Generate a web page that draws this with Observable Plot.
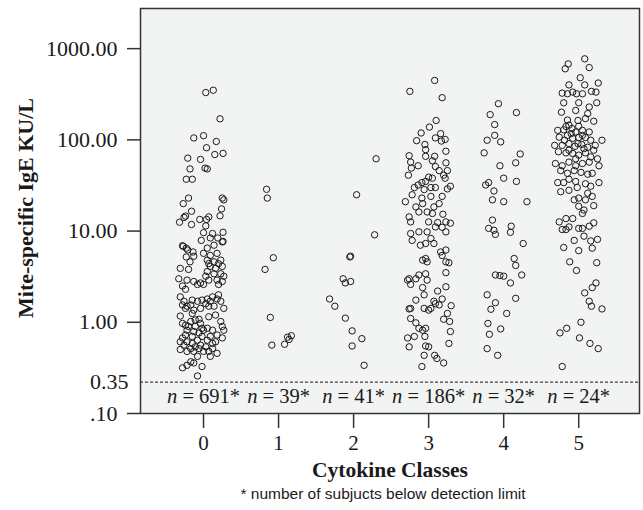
<!DOCTYPE html>
<html><head><meta charset="utf-8">
<script src="https://cdn.jsdelivr.net/npm/d3@7"></script>
<script src="https://cdn.jsdelivr.net/npm/@observablehq/plot@0.6"></script>
<style>body{margin:0;background:#fff}</style>
</head><body><div id="chart"></div>
<script>
// Categories and labels
const classes = [0, 1, 2, 3, 4, 5];
const nBelow = [691, 39, 41, 186, 32, 24];
const yTickValues = [0.1, 1, 10, 100, 1000];
const yTickLabels = [".10", "1.00", "10.00", "100.00", "1000.00"];
const detectionLimit = 0.35;
const xTitle = "Cytokine Classes";
const yTitle = "Mite-specific IgE KU/L";
const note = "* number of subjucts below detection limit";

// Points per class: [jitter offset from class, IgE value KU/L]
const class0 = [
[0.03,330],[0.13,350],[0.22,170],[-0.13,105],[0.0,111],[0.17,96],[0.04,82],[-0.21,63],[-0.04,61],[0.15,69],[0.26,71],
[-0.18,48],[0.02,49],[0.05,48],[-0.23,37],[-0.15,37],[-0.2,23],[-0.27,20],[0.25,23],[0.27,22],[0.24,17.5],[-0.16,16.5],
[-0.24,14.6],[-0.26,14.1],[-0.32,12.5],[-0.16,11.8],[-0.05,13.4],[0.07,14.3],[0.04,13.4],[0.22,14.7],[0.03,11.4],[0.0,9.6],
[0.12,9.4],[0.26,9.7],[-0.03,7.9],[0.09,8.4],[0.19,8.4],[0.26,7.7],[-0.28,6.9],[-0.23,6.5],
[-0.27,6.8],[-0.21,6.2],[-0.14,5.9],[-0.13,5.3],[-0.23,5.2],[-0.18,4.6],[0.05,6.5],[0.14,7.0],[0.25,7.6],[0.09,5.4],[0.18,5.7],
[0.05,4.8],[0.14,4.6],[0.23,4.8],[0.25,4.1],[0.09,4.1],[0.14,3.4],[0.05,3.6],[0.23,3.4],[0.18,2.9],[0.07,2.9],[0.0,2.6],
[0.25,2.8],[0.27,3.2],[-0.31,3.9],[-0.2,3.8],[-0.33,3.0],[-0.22,2.9],[-0.28,2.5],[-0.24,2.3],[-0.13,2.8],[-0.08,2.6],[-0.04,2.7],
[-0.31,1.9],[-0.26,1.7],[-0.22,1.5],[-0.15,1.75],[-0.08,1.7],[-0.02,1.75],[0.05,1.8],[0.12,1.9],[0.2,2.0],[0.23,1.7],[0.14,1.5],
[0.03,1.6],[-0.04,1.42],[-0.13,1.36],[-0.24,1.42],[0.27,1.42],[0.09,1.7],[-0.31,1.17],[-0.15,1.25],[0.07,1.15],[0.16,1.2],
[-0.06,1.08],[0.23,1.02],[0.25,0.93],[-0.24,0.95],[-0.17,1.02],[-0.11,0.93],[-0.04,0.98],[-0.22,0.87],[-0.13,0.85],[0.0,0.87],
[0.05,0.9],[0.12,0.87],[0.18,0.8],[0.27,0.87],[0.25,0.76],[-0.28,0.76],[-0.22,0.71],[-0.15,0.69],[-0.08,0.73],[-0.02,0.78],
[0.05,0.73],[0.12,0.69],[-0.26,0.67],[-0.17,0.63],[-0.11,0.65],[-0.04,0.67],[0.03,0.65],[0.12,0.63],[-0.31,0.62],[-0.22,0.6],
[-0.13,0.6],[0.0,0.6],[0.18,0.58],[-0.08,0.55],[-0.17,0.5],[-0.22,0.47],[-0.28,0.45],[-0.02,0.46],[0.09,0.55],[-0.13,0.49],
[-0.08,0.39],[-0.28,0.98],[-0.2,0.93],[-0.15,0.78],[-0.06,0.83],[-0.24,0.8],[-0.11,1.06],[-0.02,0.9],[0.09,0.78],[0.16,0.71],
[-0.31,0.71],[-0.06,0.63],[0.07,0.6],[0.0,5.7],[0.16,3.9],[0.2,4.4],[0.07,4.4],[0.03,3.2],[0.2,2.6],[-0.17,1.55],[0.07,1.5],
[0.18,1.8],[-0.28,1.55]
];
const class1 = [
[-0.16,28.7],[-0.15,23],[-0.07,5.1],[-0.18,3.8],[-0.11,1.13],[-0.09,0.67],[0.08,0.68],[0.14,0.74],[0.17,0.79],[0.12,0.77]
];
const class2 = [
[0.3,62],[0.04,25],[0.28,9.1],[-0.05,5.2],[-0.04,5.3],[-0.14,3.0],[-0.11,2.7],[-0.04,2.8],[-0.32,1.8],[-0.25,1.5],
[-0.11,1.11],[-0.02,0.86],[0.11,0.75],[-0.02,0.66],[0.14,0.47]
];
const class3 = [
[0.08,448],[-0.25,340],[0.18,290],[0.1,163],[0.01,138],[-0.1,119],[-0.16,98],[-0.05,89],[0.09,105],[0.16,117],[0.17,97],
[0.22,101],[-0.04,78],[0.23,75],[-0.26,67],[-0.24,57],[-0.04,66],[0.08,66],[0.05,59],[0.23,56],[-0.23,49],[-0.14,52],
[0.09,51],[0.14,46],[0.25,46],[-0.27,41],[0.2,41],[0.22,38],[0.0,39],[0.05,38],[-0.04,35],[-0.09,34],[-0.19,30],[-0.14,32],
[-0.06,28.5],[0.03,30],[0.09,30],[0.25,29],[0.29,31],[-0.22,25],[-0.31,21],[-0.09,23],[0.03,24],[0.14,20],[0.18,24],
[-0.17,18.4],[-0.08,20],[0.07,18.4],[-0.13,16.2],[-0.02,16.2],[0.05,15.6],[0.19,15.3],[-0.26,14.3],[-0.24,12.6],[0.0,12.6],
[0.12,12.4],[0.23,12.6],[0.29,12.2],
[-0.24,9.4],[-0.13,9.8],[-0.02,9.8],[0.09,11.1],[0.18,11.0],[0.23,9.8],[-0.22,7.9],[-0.11,7.0],[-0.04,7.3],[0.03,8.3],
[0.07,7.3],[-0.08,4.8],[-0.04,5.0],[-0.02,4.6],[0.16,5.9],[0.23,6.2],[0.18,5.4],[0.23,4.6],[0.27,4.5],[0.23,3.5],[-0.26,3.0],
[-0.28,2.9],[-0.24,2.6],[-0.17,3.0],[-0.13,3.3],[-0.04,3.4],[-0.02,2.9],[-0.08,2.4],[-0.06,2.0],[0.23,2.45],[0.12,2.2],
[0.18,1.8],[0.07,1.7],[0.09,1.6],[0.14,1.55],[-0.17,1.75],[-0.24,1.42],[-0.26,1.4],[-0.06,1.42],[0.0,1.36],[0.03,1.42],
[0.3,1.52],[0.25,1.25],[0.2,1.08],[0.28,1.02],[-0.24,1.1],[-0.17,0.99],[-0.13,0.9],[-0.08,0.87],[-0.04,0.9],[0.29,0.85],
[-0.28,0.76],[-0.26,0.65],[-0.19,0.78],[-0.05,0.78],[0.27,0.69],[-0.04,0.66],[0.0,0.65],[-0.06,0.56],[0.08,0.56],[0.11,0.53],
[0.2,0.49],[-0.09,0.46]
];
const class4 = [
[-0.07,249],[0.17,199],[-0.18,189],[-0.12,147],[-0.22,99],[-0.12,112],[-0.04,95],[-0.26,72],[0.22,70],[0.16,56],[-0.05,52],
[0.0,38],[0.17,35],[-0.24,32],[-0.2,34],[-0.13,27.5],[-0.15,22],[0.0,21],[0.31,21],[-0.15,13.2],[-0.2,10.7],[-0.13,10.2],
[-0.11,9.2],[0.1,11.3],[0.09,9.7],[0.26,7.3],[0.14,5.0],[0.16,4.2],[-0.11,3.3],[-0.05,3.25],[0.0,3.2],[0.09,2.7],[0.24,3.3],
[-0.22,2.0],[-0.11,1.64],[-0.17,1.39],[0.16,1.83],[0.04,1.25],[-0.21,0.98],[-0.04,0.89],[-0.19,0.81],[-0.22,0.63],[-0.08,0.56]
];
const class5 = [
[0.08,773],[-0.14,680],[-0.18,601],[0.14,620],[0.02,480],[-0.13,400],[0.08,400],[0.26,420],[-0.22,325],[-0.15,320],[-0.08,334],
[-0.03,320],[0.05,320],[0.17,340],[0.23,334],[-0.2,255],[0.0,255],[0.24,255],[-0.23,201],[-0.04,210],[0.14,229],[0.12,194],
[-0.15,165],[-0.01,163],[0.09,171],[0.2,160],[-0.13,145],[-0.28,127],[-0.2,129],[-0.09,133],[-0.04,122],[0.05,127],[0.14,122],
[-0.26,107],[-0.15,112],[-0.08,104],[0.0,106],[0.09,106],[0.16,99],[0.31,99],[-0.32,87],[-0.22,87],[-0.13,91],[-0.05,85],
[0.04,89],[0.12,83],[0.22,87],[-0.27,74],[-0.17,72],[-0.08,71],[0.0,68],[0.09,72],[0.16,65],[0.25,62],[-0.31,55],[-0.22,52],
[-0.13,57],[-0.04,52],[0.05,55],[0.14,57],[0.27,52],[-0.24,46],[-0.15,43],[-0.06,46],[0.03,44],[0.12,42],[0.18,43],[-0.28,34],
[-0.2,34],[-0.13,37],[-0.04,35],[0.09,33],[0.16,31],[0.27,34],[-0.24,27],[-0.13,28],[-0.02,30],[0.12,26],[0.18,24],[-0.06,22],
[0.0,23],[0.09,22],[-0.17,140],[0.0,141],[-0.1,117],[0.05,112],[-0.19,99],[-0.01,91],[0.07,80],[-0.13,77],[-0.04,62],[0.2,77],
[0.0,18.7],[0.07,17],[0.05,15.6],[0.2,19],[-0.26,12.6],[-0.17,13.7],[-0.08,13.7],[-0.22,10.4],[-0.17,10.4],[-0.13,11.1],
[0.0,10.7],[0.05,10.7],[0.14,11.3],[0.2,12.3],[0.07,8.8],[0.16,7.8],[0.25,8.1],[-0.06,7.9],[0.18,6.5],[-0.2,6.6],[0.0,6.1],
[-0.12,4.6],[0.24,4.5],[-0.03,3.7],[0.23,2.7],[0.18,2.4],[0.08,2.1],[0.14,1.7],[0.17,1.5],[0.31,1.4],[0.03,1.0],[-0.16,0.9],
[-0.25,0.83],[0.01,0.76],[0.15,0.69],[0.26,0.63],[-0.22,0.46]
];

const byClass = [class0, class1, class2, class3, class4, class5];
const points = byClass.flatMap((arr, i) => arr.map(([dx, v]) => ({cls: i, x: i + dx, v})));

// SPSS-style broken log axis: log above 1, stretched band from 1 to 0.35, compressed band below the detection limit
const L035 = Math.log10(0.35), P035 = -0.656;
function pos(v) {
  const l = Math.log10(v);
  if (v >= 1) return l;
  if (v >= 0.35) return l * (P035 / L035);
  return P035 + (l - L035) / (-1 - L035) * (-1 - P035);
}
const labelByPos = new Map(yTickValues.map((v, i) => [pos(v), yTickLabels[i]]));

const serif = "'Liberation Serif','Times New Roman',serif";
const chart = Plot.plot({
  width: 643, height: 510,
  marginTop: 8, marginRight: 4, marginBottom: 97, marginLeft: 140,
  style: {fontFamily: serif, background: "#fff", color: "#1a1a1a"},
  x: {type: "linear", domain: [-0.84, 5.81]},
  y: {type: "linear", domain: [-1, 3.44]},
  marks: [
    Plot.frame({fill: "#f2f3f3", stroke: null}),
    Plot.ruleY([pos(detectionLimit)], {stroke: "#111", strokeWidth: 1, strokeDasharray: "3,2"}),
    Plot.dot(points, {x: "x", y: d => pos(d.v), r: 3.2, stroke: "#1a1a1a", strokeWidth: 1, fill: "none"}),
    Plot.text(classes, {x: d => d, frameAnchor: "bottom", dy: -11, text: (d, i) => `n = ${nBelow[i]}*`, fontSize: 20.5, fill: "#1a1a1a"}),
    Plot.axisY(yTickValues.map(pos), {tickSize: 13, tickPadding: 10, tickFormat: t => labelByPos.get(t), fontSize: 22, strokeWidth: 1.5, stroke: "#333", label: null}),
    Plot.axisY([pos(detectionLimit)], {tickSize: 0, tickPadding: 12, tickFormat: () => "0.35", fontSize: 22, label: null}),
    Plot.axisX(classes, {tickSize: 15, tickPadding: 7, tickFormat: d => String(d), fontSize: 21, strokeWidth: 1.5, stroke: "#333", label: null}),
    Plot.frame({stroke: "#333", strokeWidth: 1.5}),
    Plot.text([yTitle], {frameAnchor: "left", textAnchor: "middle", dx: -115, dy: -3, rotate: -90, fontSize: 22, fontWeight: "bold", fill: "#1a1a1a"}),
    Plot.text([xTitle], {frameAnchor: "bottom", dy: 63, fontSize: 21.5, fontWeight: "bold", fill: "#1a1a1a"}),
    Plot.text([note], {frameAnchor: "bottom", dy: 85, dx: -7, fontSize: 15.5, fontFamily: "'Liberation Sans',Arial,sans-serif", fill: "#1a1a1a"})
  ]
});
document.getElementById("chart").appendChild(chart);

// italic "n" in the count labels
d3.select(chart).selectAll("text").each(function () {
  const t = this.textContent;
  if (/^n = /.test(t)) {
    const s = d3.select(this);
    this.textContent = "";
    s.append("tspan").attr("font-style", "italic").text("n");
    s.append("tspan").text(t.slice(1));
  }
});
</script>
</body></html>
